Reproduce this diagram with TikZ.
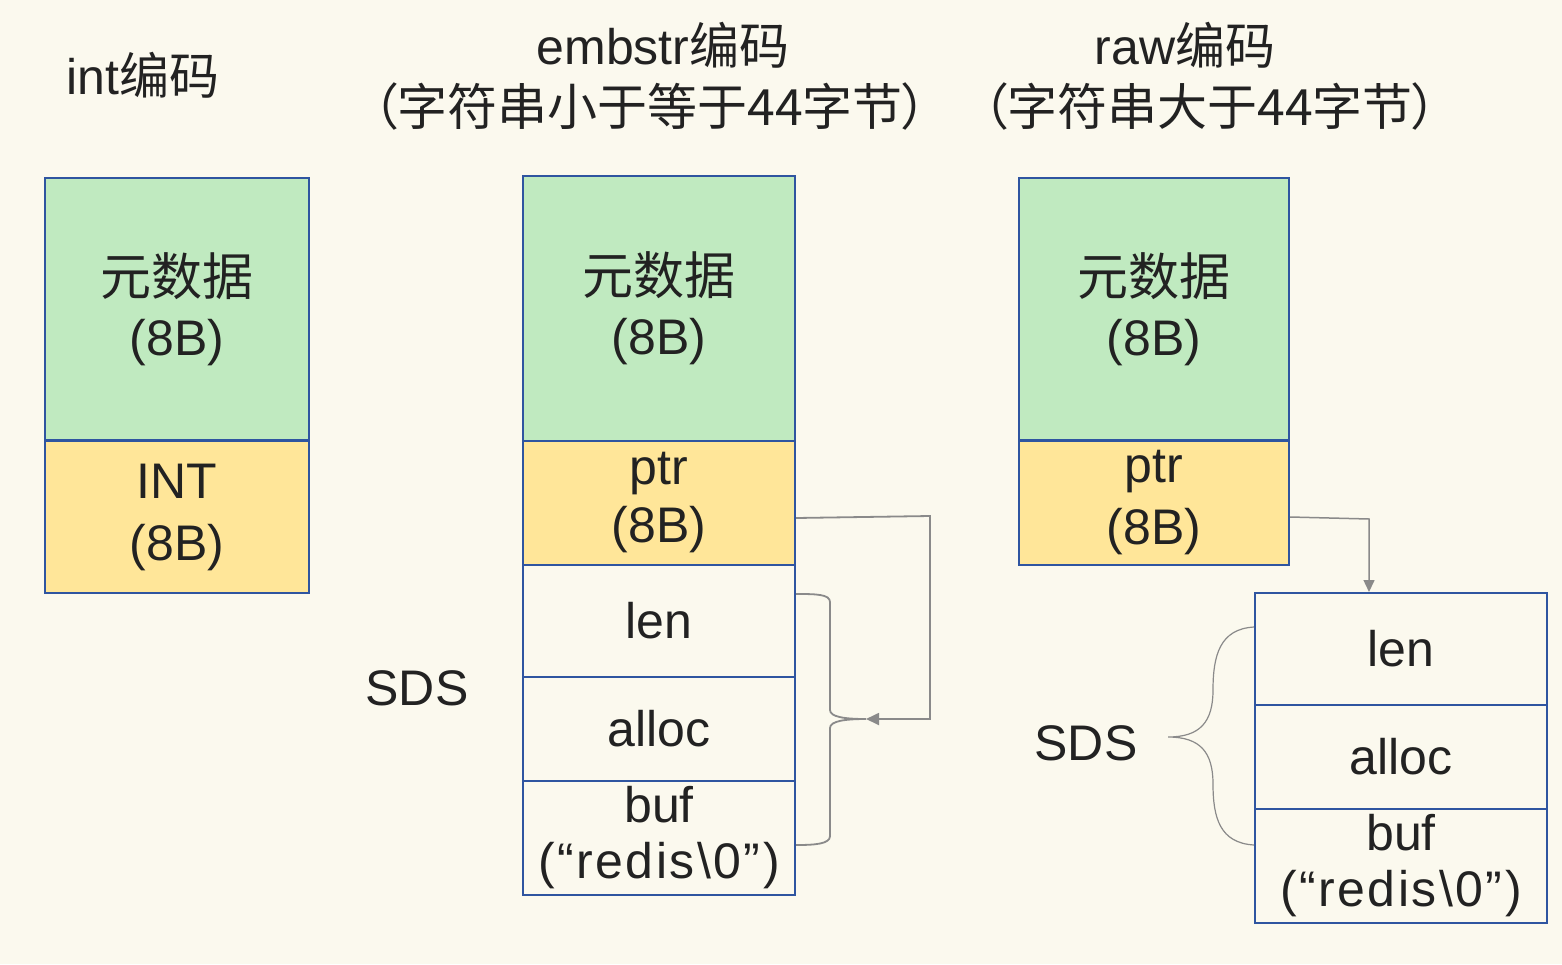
\documentclass[tikz,border=0pt]{standalone}
\usepackage{fontspec}
\setmainfont{Liberation Sans}
\newfontfamily\zhfont[RawFeature=+palt]{Noto Sans CJK SC}
\newcommand{\zh}[1]{{\zhfont #1}}
\newcommand{\redis}{{\addfontfeature{LetterSpace=5}(“redis\textbackslash0”)}}
\usetikzlibrary{arrows.meta,calc}
\definecolor{bg}{HTML}{FBF9EE}
\definecolor{gfill}{HTML}{C0EAC0}
\definecolor{yfill}{HTML}{FFE699}
\definecolor{bline}{HTML}{2F55A0}
\definecolor{cline}{HTML}{8A8A8A}
\definecolor{txt}{HTML}{222222}
\begin{document}
\begin{tikzpicture}[x=1pt,y=-1pt,
  cell/.style={draw=bline,line width=2pt,align=center,inner sep=0pt,text=txt,
    font=\fontsize{50}{62}\selectfont},
  gbox/.style={cell,fill=gfill,font=\fontsize{50}{60}\selectfont},
  ybox/.style={cell,fill=yfill},
  wbox/.style={cell,fill=bg},
  lbl/.style={text=txt,align=center,inner sep=0pt},
  hdr/.style={lbl,font=\fontsize{50}{56}\selectfont},
  conn/.style={draw=cline,line width=1.8pt},
  brace/.style={draw=cline,line width=1.2pt}]
\fill[bg] (0,0) rectangle (1562,964);
\useasboundingbox (0,0) rectangle (1562,964);
% headers
\node[hdr] (h1) at (143,75) {int\zh{编码}};
\node[hdr] (h2) at (663,45) {embstr\zh{编码}};
\node[hdr] (h2b) at (650,106) {\zh{（字符串小于等于44字节）}};
\node[hdr] (h3) at (1185,45) {raw\zh{编码}};
\node[hdr] (h3b) at (1210,106) {\zh{（字符串大于44字节）}};
% int column
\node[gbox,minimum width=264pt,minimum height=262pt] (ig) at (177,309) {\zh{\fontsize{51}{60}\selectfont 元数据}\\(8B)};
\node[ybox,minimum width=264pt,minimum height=152pt] (iy) at (177,517) {INT\\(8B)};
% embstr column
\node[gbox,minimum width=272pt,minimum height=265pt] (eg) at (659,308.5) {\zh{\fontsize{51}{60}\selectfont 元数据}\\(8B)};
\node[ybox,minimum width=272pt,minimum height=124pt,font=\fontsize{50}{58}\selectfont] (ey) at (659,503) {ptr\\(8B)};
\node[wbox,minimum width=272pt,minimum height=112pt] (el) at (659,621) {len};
\node[wbox,minimum width=272pt,minimum height=104pt] (ea) at (659,729) {alloc};
\node[wbox,minimum width=272pt,minimum height=114pt,font=\fontsize{50}{56}\selectfont] (eb) at (659,838) {buf\\\redis};
\node[lbl,font=\fontsize{50}{56}\selectfont] (s1) at (417,688) {SDS};
% raw column
\node[gbox,minimum width=270pt,minimum height=262pt] (rg) at (1154,309) {\zh{\fontsize{51}{60}\selectfont 元数据}\\(8B)};
\node[ybox,minimum width=270pt,minimum height=124pt,font=\fontsize{50}{62}\selectfont] (ry) at (1154,503) {ptr\\(8B)};
\node[wbox,minimum width=292pt,minimum height=112pt] (rl) at (1401,649) {len};
\node[wbox,minimum width=292pt,minimum height=104pt] (ra) at (1401,757) {alloc};
\node[wbox,minimum width=292pt,minimum height=114pt,font=\fontsize{50}{56}\selectfont] (rb) at (1401,866) {buf\\\redis};
\node[lbl,font=\fontsize{50}{56}\selectfont] (s2) at (1086,743) {SDS};
% embstr connectors
\coordinate (etip) at (866,719);
\draw[conn,-{Triangle[length=13pt,width=12pt]}] ([yshift=-15pt]ey.east) -- (930,516) -- (930,719) -- (etip);
\draw[brace,line width=1.8pt] ([yshift=27pt]el.east) .. controls (815,594) and (830,594) .. (830,602)
  -- (830,710) .. controls (830,717) and (845,719) .. (etip)
  .. controls (845,719) and (830,721) .. (830,728)
  -- (830,836) .. controls (830,844) and (815,845) .. ([yshift=-7pt]eb.east);
% raw connectors
\draw[conn,line width=1.5pt,-{Triangle[length=12pt,width=11pt]}] ([yshift=-14pt]ry.east) -- (1369,519) -- (rl.north -| 1369,0);
\coordinate (rtip) at (1168,737);
\draw[brace] ([yshift=22pt]rl.west) .. controls (1220,629) and (1213,655) .. (1213,690)
  .. controls (1213,722) and (1200,737) .. (rtip)
  .. controls (1200,737) and (1213,752) .. (1213,784)
  .. controls (1213,818) and (1220,843) .. ([yshift=21pt]rb.west);
\end{tikzpicture}
\end{document}
